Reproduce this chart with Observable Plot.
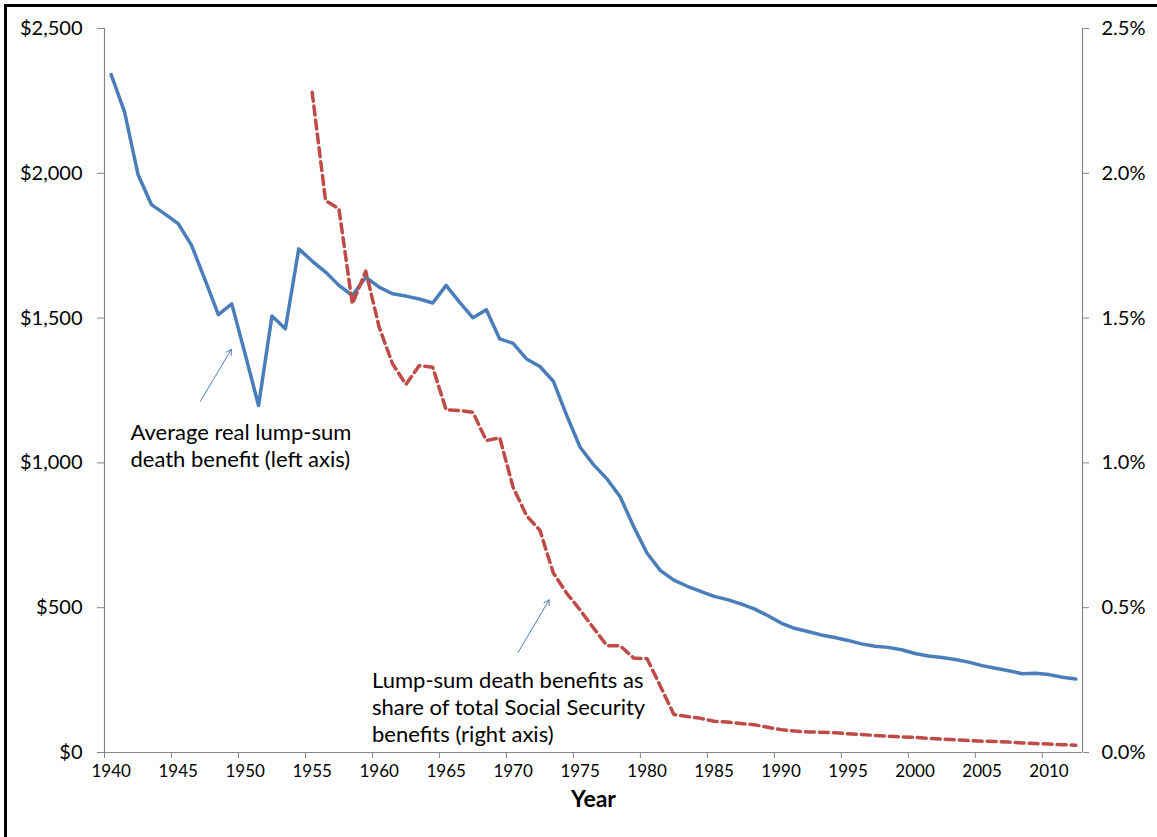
<!DOCTYPE html>
<html><head><meta charset="utf-8">
<script src="https://cdn.jsdelivr.net/npm/d3@7"></script>
<script src="https://cdn.jsdelivr.net/npm/@observablehq/plot@0.6"></script>
<style>
body{margin:0;background:#fff;}
#wrap{position:relative;width:1157px;height:837px;overflow:hidden;background:#fff}
#wrap svg{position:absolute;left:0;top:0}
#frame{position:absolute;left:4px;top:4px;right:-10px;bottom:-10px;border-top:3px solid #000;border-left:3px solid #000;pointer-events:none}
</style></head><body><div id="wrap"><div id="frame"></div></div>
<script>
// Average real lump-sum death benefit (left axis, dollars)
const benefitYears = [1940,1941,1942,1943,1944,1945,1946,1947,1948,1949,1950,1951,1952,1953,1954,1955,1956,1957,1958,1959,1960,1961,1962,1963,1964,1965,1966,1967,1968,1969,1970,1971,1972,1973,1974,1975,1976,1977,1978,1979,1980,1981,1982,1983,1984,1985,1986,1987,1988,1989,1990,1991,1992,1993,1994,1995,1996,1997,1998,1999,2000,2001,2002,2003,2004,2005,2006,2007,2008,2009,2010,2011,2012];
const benefitValues = [2341,2211,1996,1892,1860,1826,1751,1633,1512,1549,1375,1198,1507,1463,1739,1697,1659,1613,1578,1641,1607,1584,1576,1566,1552,1613,1555,1501,1529,1428,1413,1359,1333,1282,1164,1054,994,945,882,780,688,628,595,574,556,539,528,513,496,473,447,429,418,406,397,387,375,367,363,355,342,333,328,321,312,300,291,282,272,274,269,260,254];

// Lump-sum death benefits as share of total Social Security benefits (right axis, percent)
const shareYears = [1955,1956,1957,1958,1959,1960,1961,1962,1963,1964,1965,1966,1967,1968,1969,1970,1971,1972,1973,1974,1975,1976,1977,1978,1979,1980,1981,1982,1983,1984,1985,1986,1987,1988,1989,1990,1991,1992,1993,1994,1995,1996,1997,1998,1999,2000,2001,2002,2003,2004,2005,2006,2007,2008,2009,2010,2011,2012];
const shareValues = [2.280,1.906,1.877,1.549,1.662,1.469,1.342,1.271,1.336,1.330,1.183,1.181,1.175,1.077,1.087,0.916,0.818,0.767,0.620,0.550,0.492,0.430,0.369,0.368,0.326,0.324,0.228,0.131,0.124,0.118,0.108,0.105,0.100,0.096,0.087,0.079,0.074,0.071,0.070,0.068,0.065,0.062,0.059,0.056,0.054,0.052,0.049,0.046,0.044,0.041,0.039,0.038,0.036,0.033,0.031,0.029,0.027,0.025];

const leftTicks = [0,500,1000,1500,2000,2500];
const rightTickLabels = ["0.0%","0.5%","1.0%","1.5%","2.0%","2.5%"];
const xTickYears = [1940,1945,1950,1955,1960,1965,1970,1975,1980,1985,1990,1995,2000,2005,2010];

const benefitRows = benefitYears.map((year, i) => ({year, value: benefitValues[i]}));
const shareRows = shareYears.map((year, i) => ({year, pct: shareValues[i]}));

// right axis: 2.5% corresponds to $2,500 on the shared vertical scale
const pctToLeft = 1000;

const notes = [
  {x: 1941.94, y: 1145, text: "Average real lump-sum\ndeath benefit (left axis)"},
  {x: 1959.97, y: 289, text: "Lump-sum death benefits as\nshare of total Social Security\nbenefits (right axis)"}
];
const pointers = [
  {x1: 1947.15, y1: 1212, x2: 1949.47, y2: 1392},
  {x1: 1970.88, y1: 346, x2: 1973.19, y2: 527}
];

const font = "Lato, 'Open Sans', sans-serif";
const axisGray = "#868686";

const chart = Plot.plot({
  width: 1157, height: 837,
  marginLeft: 104, marginRight: 75, marginTop: 28, marginBottom: 85,
  style: {fontFamily: font, background: "transparent", color: "#000"},
  x: {domain: [1940, 2013]},
  y: {domain: [0, 2500]},
  marks: [
    Plot.ruleY([0], {stroke: axisGray, strokeWidth: 1.2}),
    Plot.ruleX([1940], {stroke: axisGray, strokeWidth: 1.2}),
    Plot.ruleX([2013], {stroke: axisGray, strokeWidth: 1.2}),
    Plot.axisY({anchor: "left", ticks: leftTicks, tickSize: 7, tickPadding: 15,
      tickFormat: d => "$" + d3.format(",")(d), stroke: axisGray, fontSize: 20, label: null}),
    Plot.axisY({anchor: "right", ticks: leftTicks, tickSize: 6, tickPadding: 13,
      tickFormat: d => rightTickLabels[leftTicks.indexOf(d)], stroke: axisGray, fontSize: 20, label: null}),
    Plot.axisX({ticks: xTickYears, tickSize: 6, tickFormat: () => "", stroke: axisGray, label: null}),
    Plot.axisX({ticks: xTickYears.map(y => y + 0.5), tickSize: 0, tickPadding: 12,
      tickFormat: d => String(Math.round(d - 0.5)), fontSize: 17, label: null}),
    Plot.text(["Year"], {frameAnchor: "bottom", dy: 54, fontSize: 23, fontWeight: "bold"}),
    Plot.line(benefitRows, {x: d => d.year + 0.5, y: "value", stroke: "#4a7ebb", strokeWidth: 3.5, strokeLinejoin: "round"}),
    Plot.line(shareRows, {x: d => d.year + 0.5, y: d => d.pct * pctToLeft, stroke: "#be4b48", strokeWidth: 3.5, strokeDasharray: "9,5"}),
    Plot.text(notes, {x: "x", y: "y", text: "text", textAnchor: "start", lineAnchor: "top", lineHeight: 1.23, fontSize: 22}),
    Plot.arrow(pointers, {x1: "x1", y1: "y1", x2: "x2", y2: "y2", stroke: "#4a7ebb", strokeWidth: 1, headLength: 9})
  ]
});
document.getElementById("wrap").insertBefore(chart, document.getElementById("frame"));
</script>
</body></html>
